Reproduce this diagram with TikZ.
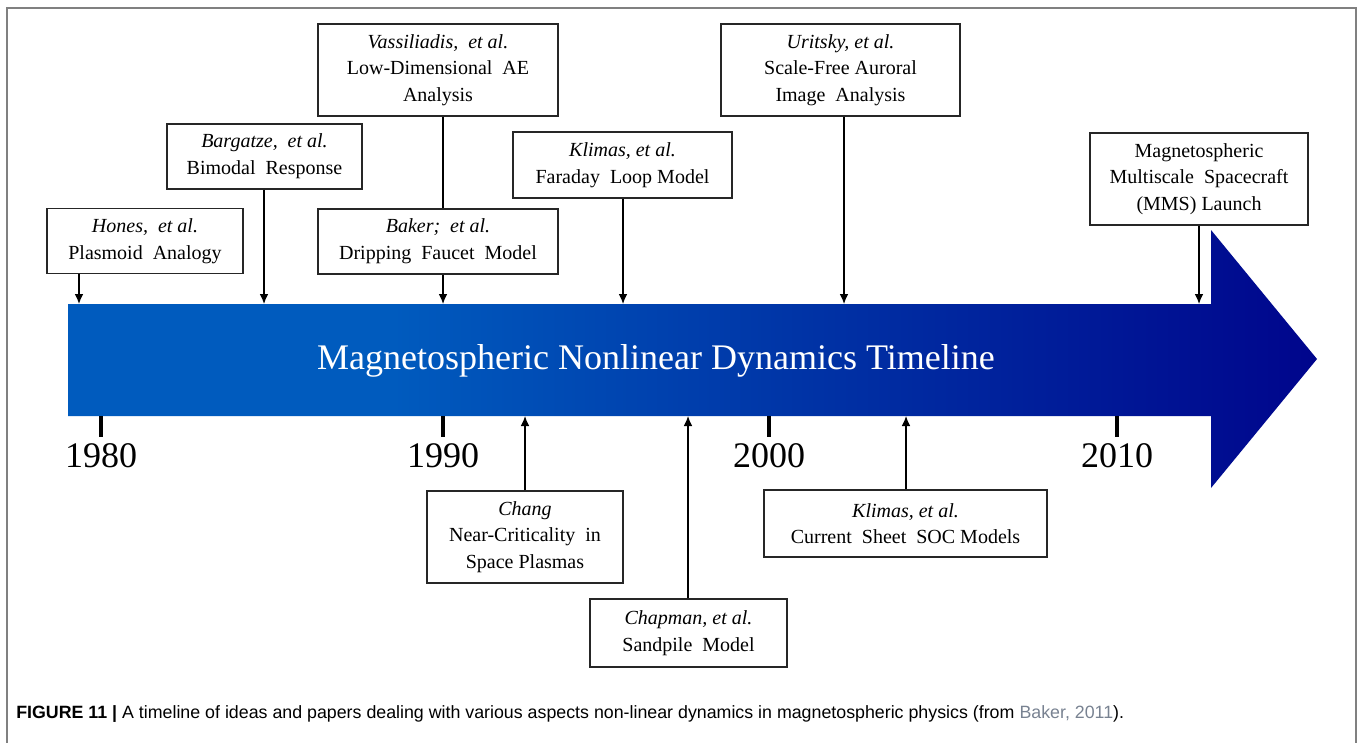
\documentclass[tikz,border=0pt]{standalone}
\usepackage{fontspec}
\setmainfont{Liberation Serif}
\newfontfamily\capfont{Liberation Sans}
\usetikzlibrary{arrows.meta}
\definecolor{barL}{RGB}{0,91,190}
\definecolor{barM}{RGB}{0,50,165}
\definecolor{barR}{RGB}{0,5,140}
\definecolor{framegray}{RGB}{128,128,128}
\definecolor{linkgray}{RGB}{120,130,145}
\pgfdeclarehorizontalshading{barshade}{100bp}{color(0bp)=(barL); color(25bp)=(barL); color(38bp)=(barL); color(55bp)=(barM); color(75bp)=(barR); color(100bp)=(barR)}
\newcommand\ws{\hspace{0.5em}}
\tikzset{
  x=0.75pt, y=-0.75pt,
  evbox/.style 2 args={draw=black!85, line width=0.9pt, fill=white, inner sep=0pt, align=center,
    minimum width=#1*0.75pt, minimum height=#2*0.75pt, font=\fontsize{15}{20}\selectfont},
  conn/.style={line width=0.9pt, draw=black},
  arr/.style={conn, -{Latex[length=7.5pt,width=6.5pt]}},
  yeartick/.style={line width=3pt, draw=black},
  year/.style={font=\fontsize{27}{30}\selectfont, anchor=base, inner sep=0pt},
}
\begin{document}
\begin{tikzpicture}
\useasboundingbox (0,0) rectangle (1358,742);
% frame
\draw[framegray, line width=1.5pt] (7,760) -- (7,8) -- (1356,8) -- (1356,760);
% timeline arrow
\shade[shading=barshade] (68,304) -- (1211,304) -- (1211,230) -- (1317,359) -- (1211,488) -- (1211,416) -- (68,416) -- cycle;
\node[text=white, font=\fontsize{27}{30}\selectfont, anchor=base, inner sep=0pt] (title) at (656,369) {Magnetospheric Nonlinear Dynamics Timeline};
% connector end points on the bar
\coordinate (b1) at (79,304);
\coordinate (b2) at (264,304);
\coordinate (b3) at (443,304);
\coordinate (b4) at (623,304);
\coordinate (b5) at (844,304);
\coordinate (b6) at (1199,304);
\coordinate (c1) at (525,416);
\coordinate (c2) at (688,416);
\coordinate (c3) at (906,416);
% ticks and years
\foreach \xx/\yr in {101/1980, 443/1990, 769/2000, 1117/2010}{
  \draw[yeartick] (\xx,416) -- (\xx,437);
  \node[year] (y\yr) at (\xx,467) {\yr};
}
% upper boxes
\node[evbox={196}{65}] (hones) at (145,241) {\textit{Hones,\ws et al.}\\Plasmoid\ws Analogy};
\node[evbox={195}{65}] (barg) at (264.5,156.5) {\textit{Bargatze,\ws et al.}\\Bimodal\ws Response};
\node[evbox={240}{92}] (vass) at (438,70) {\textit{Vassiliadis,\ws et al.}\\Low-Dimensional\ws AE\\Analysis};
\node[evbox={240}{65}] (baker) at (438,241.5) {\textit{Baker;\ws et al.}\\Dripping\ws Faucet\ws Model};
\node[evbox={219}{66}] (klimf) at (622.5,165) {\textit{Klimas, et al.}\\Faraday\ws Loop Model};
\node[evbox={239}{92}] (urit) at (840.5,70) {\textit{Uritsky, et al.}\\Scale-Free Auroral\\Image\ws Analysis};
\node[evbox={218}{92}] (mms) at (1199,179) {Magnetospheric\\Multiscale\ws Spacecraft\\(MMS) Launch};
% lower boxes
\node[evbox={196}{92}] (chang) at (525,537) {\textit{Chang}\\Near-Criticality\ws in\\Space Plasmas};
\node[evbox={197}{68}] (chap) at (688.5,633) {\textit{Chapman, et al.}\\Sandpile\ws Model};
\node[evbox={283}{67}] (soc) at (905.5,523.5) {\textit{Klimas, et al.}\\Current\ws Sheet\ws SOC Models};
% connectors
\draw[arr] (hones.south -| b1) -- (b1);
\draw[arr] (barg.south -| b2) -- (b2);
\draw[conn] (vass.south -| b3) -- (baker.north -| b3);
\draw[arr] (baker.south -| b3) -- (b3);
\draw[arr] (klimf.south -| b4) -- (b4);
\draw[arr] (urit.south -| b5) -- (b5);
\draw[arr] (mms.south -| b6) -- (b6);
\draw[arr] (chang.north -| c1) -- (c1);
\draw[arr] (chap.north -| c2) -- (c2);
\draw[arr] (soc.north -| c3) -- (c3);
% caption
\node[anchor=base west, inner sep=0pt, font=\capfont\fontsize{13.35}{15}\selectfont] (cap) at (16,718)
  {\textbf{FIGURE 11 |} A timeline of ideas and papers dealing with various aspects non-linear dynamics in magnetospheric physics (from \textcolor{linkgray}{Baker, 2011}).};
\end{tikzpicture}
\end{document}
